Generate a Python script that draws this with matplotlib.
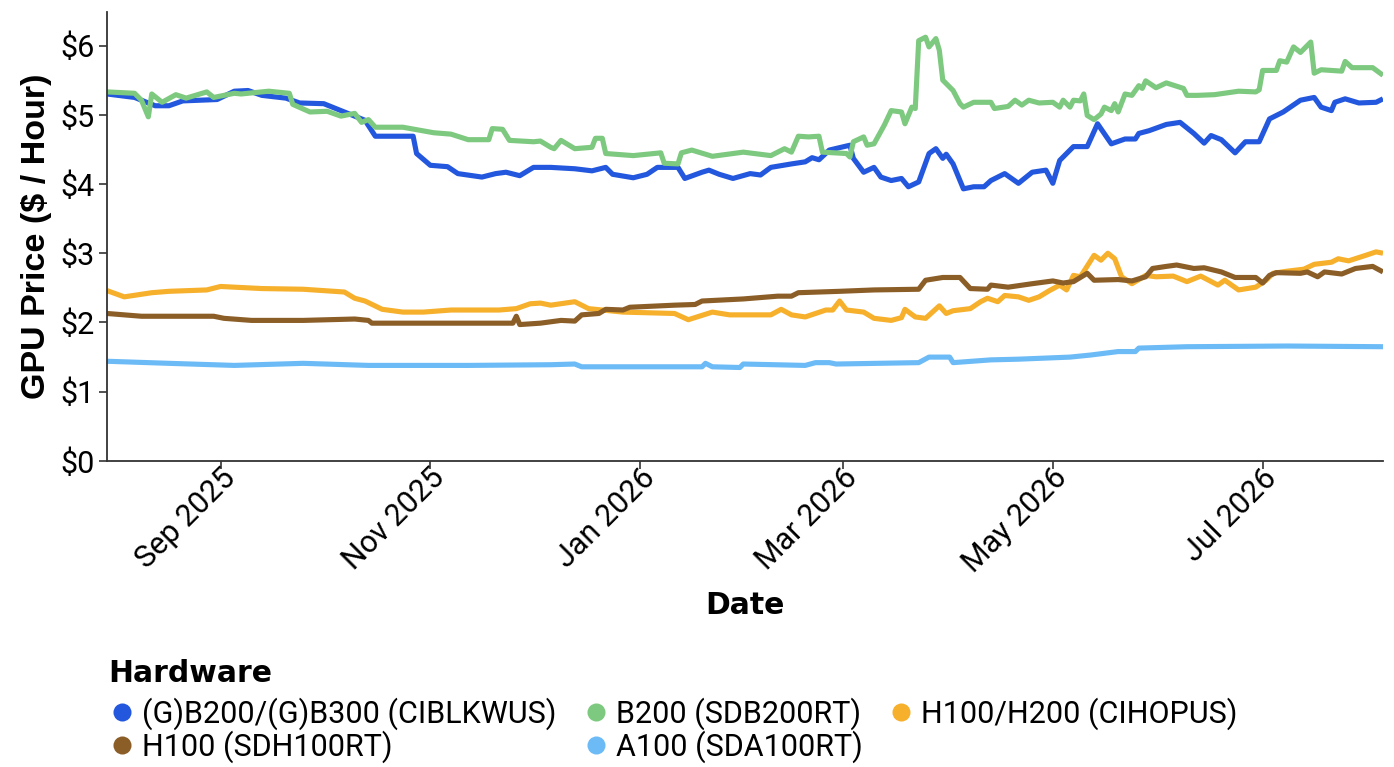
"""
plot.py
GPU rental price indices, Aug 2025 - Aug 2026.
"""

import numpy as np
import pandas as pd
import matplotlib
matplotlib.use("Agg")
import matplotlib.pyplot as plt
import matplotlib.dates as mdates
import matplotlib.transforms as mtransforms
from matplotlib.lines import Line2D
from matplotlib.ticker import FuncFormatter, MultipleLocator

# --- data (date, $/hour)
GB_DATES = ["2025-07-30", "2025-08-07", "2025-08-13", "2025-08-17", "2025-08-21", "2025-08-31",
            "2025-09-05", "2025-09-09", "2025-09-13", "2025-09-20", "2025-09-24", "2025-10-01",
            "2025-10-06", "2025-10-13", "2025-10-16", "2025-10-27", "2025-10-28", "2025-11-01",
            "2025-11-06", "2025-11-09", "2025-11-16", "2025-11-20", "2025-11-23", "2025-11-27",
            "2025-12-01", "2025-12-06", "2025-12-13", "2025-12-18", "2025-12-22", "2025-12-24",
            "2025-12-30", "2026-01-03", "2026-01-06", "2026-01-12", "2026-01-14", "2026-01-19",
            "2026-01-21", "2026-01-24", "2026-01-28", "2026-02-02", "2026-02-05", "2026-02-08",
            "2026-02-14", "2026-02-18", "2026-02-20", "2026-02-22", "2026-02-25", "2026-03-03",
            "2026-03-04", "2026-03-07", "2026-03-10", "2026-03-12", "2026-03-15", "2026-03-18",
            "2026-03-20", "2026-03-23", "2026-03-26", "2026-03-28", "2026-03-30", "2026-03-31",
            "2026-04-02", "2026-04-05", "2026-04-08", "2026-04-11", "2026-04-13", "2026-04-17",
            "2026-04-21", "2026-04-25", "2026-04-29", "2026-05-01", "2026-05-03", "2026-05-07",
            "2026-05-11", "2026-05-14", "2026-05-18", "2026-05-22", "2026-05-25", "2026-05-26",
            "2026-05-29", "2026-06-03", "2026-06-07", "2026-06-11", "2026-06-14", "2026-06-16",
            "2026-06-19", "2026-06-23", "2026-06-26", "2026-06-30", "2026-07-03", "2026-07-07",
            "2026-07-12", "2026-07-16", "2026-07-18", "2026-07-21", "2026-07-22", "2026-07-25",
            "2026-07-29", "2026-08-03", "2026-08-05"]
GB_PRICE = [5.30, 5.25, 5.13, 5.13, 5.20, 5.22,
            5.34, 5.35, 5.28, 5.24, 5.17, 5.16,
            5.06, 4.92, 4.69, 4.69, 4.44, 4.27,
            4.25, 4.15, 4.10, 4.15, 4.17, 4.12,
            4.24, 4.24, 4.22, 4.19, 4.24, 4.14,
            4.09, 4.14, 4.24, 4.24, 4.08, 4.17,
            4.20, 4.14, 4.08, 4.15, 4.13, 4.24,
            4.29, 4.32, 4.38, 4.35, 4.49, 4.56,
            4.37, 4.17, 4.24, 4.10, 4.05, 4.08,
            3.96, 4.03, 4.44, 4.51, 4.37, 4.43,
            4.29, 3.93, 3.96, 3.96, 4.05, 4.15,
            4.01, 4.17, 4.20, 4.01, 4.34, 4.54,
            4.54, 4.87, 4.58, 4.65, 4.65, 4.73,
            4.77, 4.86, 4.89, 4.73, 4.59, 4.70,
            4.64, 4.45, 4.61, 4.61, 4.94, 5.04,
            5.21, 5.25, 5.11, 5.06, 5.18, 5.23,
            5.17, 5.18, 5.23]

B200_DATES = ["2025-07-30", "2025-08-07", "2025-08-09", "2025-08-11", "2025-08-12", "2025-08-15",
              "2025-08-19", "2025-08-22", "2025-08-28", "2025-08-30", "2025-09-05", "2025-09-07",
              "2025-09-15", "2025-09-21", "2025-09-22", "2025-09-27", "2025-10-02", "2025-10-06",
              "2025-10-10", "2025-10-12", "2025-10-14", "2025-10-16", "2025-10-24", "2025-11-02",
              "2025-11-07", "2025-11-12", "2025-11-18", "2025-11-19", "2025-11-22", "2025-11-24",
              "2025-12-01", "2025-12-03", "2025-12-06", "2025-12-07", "2025-12-09", "2025-12-13",
              "2025-12-18", "2025-12-19", "2025-12-21", "2025-12-22", "2025-12-30", "2026-01-07",
              "2026-01-08", "2026-01-12", "2026-01-13", "2026-01-16", "2026-01-22", "2026-01-31",
              "2026-02-08", "2026-02-12", "2026-02-14", "2026-02-16", "2026-02-19", "2026-02-22",
              "2026-02-23", "2026-03-02", "2026-03-03", "2026-03-04", "2026-03-07", "2026-03-08",
              "2026-03-10", "2026-03-13", "2026-03-15", "2026-03-18", "2026-03-19", "2026-03-21",
              "2026-03-22", "2026-03-23", "2026-03-25", "2026-03-26", "2026-03-28", "2026-03-29",
              "2026-03-30", "2026-04-02", "2026-04-04", "2026-04-05", "2026-04-08", "2026-04-13",
              "2026-04-14", "2026-04-18", "2026-04-20", "2026-04-22", "2026-04-24", "2026-04-27",
              "2026-05-01", "2026-05-03", "2026-05-04", "2026-05-06", "2026-05-07", "2026-05-09",
              "2026-05-10", "2026-05-11", "2026-05-13", "2026-05-15", "2026-05-16", "2026-05-18",
              "2026-05-19", "2026-05-20", "2026-05-22", "2026-05-24", "2026-05-26", "2026-05-27",
              "2026-05-28", "2026-05-31", "2026-06-03", "2026-06-08", "2026-06-09", "2026-06-12",
              "2026-06-17", "2026-06-24", "2026-06-29", "2026-06-30", "2026-07-01", "2026-07-05",
              "2026-07-06", "2026-07-08", "2026-07-10", "2026-07-12", "2026-07-15", "2026-07-16",
              "2026-07-18", "2026-07-24", "2026-07-25", "2026-07-27", "2026-08-02", "2026-08-05"]
B200_PRICE = [5.33, 5.31, 5.21, 4.97, 5.30, 5.18,
              5.29, 5.24, 5.33, 5.25, 5.31, 5.30,
              5.34, 5.31, 5.15, 5.04, 5.05, 4.98,
              5.02, 4.89, 4.93, 4.82, 4.82, 4.74,
              4.72, 4.64, 4.64, 4.80, 4.79, 4.63,
              4.61, 4.62, 4.53, 4.51, 4.63, 4.51,
              4.53, 4.66, 4.66, 4.44, 4.41, 4.45,
              4.30, 4.29, 4.45, 4.49, 4.40, 4.46,
              4.41, 4.51, 4.46, 4.69, 4.68, 4.69,
              4.46, 4.44, 4.39, 4.61, 4.68, 4.56,
              4.58, 4.85, 5.06, 5.04, 4.87, 5.11,
              5.09, 6.07, 6.12, 5.98, 6.10, 5.93,
              5.50, 5.35, 5.16, 5.11, 5.18, 5.18,
              5.09, 5.12, 5.21, 5.14, 5.21, 5.17,
              5.18, 5.11, 5.21, 5.11, 5.21, 5.20,
              5.30, 4.99, 4.93, 5.01, 5.11, 5.06,
              5.16, 5.04, 5.30, 5.28, 5.42, 5.38,
              5.49, 5.39, 5.46, 5.38, 5.28, 5.28,
              5.29, 5.34, 5.33, 5.36, 5.64, 5.64,
              5.78, 5.76, 5.98, 5.90, 6.05, 5.60,
              5.65, 5.63, 5.77, 5.68, 5.68, 5.57]

H100H200_DATES = ["2025-07-30", "2025-08-04", "2025-08-12", "2025-08-17", "2025-08-28", "2025-09-01",
                  "2025-09-13", "2025-09-25", "2025-10-07", "2025-10-10", "2025-10-13", "2025-10-18",
                  "2025-10-24", "2025-10-30", "2025-11-07", "2025-11-21", "2025-11-26", "2025-11-30",
                  "2025-12-03", "2025-12-06", "2025-12-13", "2025-12-17", "2025-12-27", "2026-01-11",
                  "2026-01-15", "2026-01-22", "2026-01-27", "2026-02-08", "2026-02-11", "2026-02-14",
                  "2026-02-18", "2026-02-24", "2026-02-26", "2026-02-28", "2026-03-02", "2026-03-07",
                  "2026-03-10", "2026-03-15", "2026-03-18", "2026-03-19", "2026-03-22", "2026-03-25",
                  "2026-03-29", "2026-03-31", "2026-04-02", "2026-04-07", "2026-04-10", "2026-04-12",
                  "2026-04-15", "2026-04-17", "2026-04-21", "2026-04-24", "2026-04-27", "2026-04-30",
                  "2026-05-03", "2026-05-05", "2026-05-07", "2026-05-09", "2026-05-13", "2026-05-15",
                  "2026-05-17", "2026-05-19", "2026-05-21", "2026-05-24", "2026-05-28", "2026-05-31",
                  "2026-06-05", "2026-06-09", "2026-06-13", "2026-06-18", "2026-06-20", "2026-06-24",
                  "2026-06-29", "2026-07-02", "2026-07-04", "2026-07-08", "2026-07-13", "2026-07-16",
                  "2026-07-21", "2026-07-23", "2026-07-26", "2026-07-31", "2026-08-03", "2026-08-05"]
H100H200_PRICE = [2.46, 2.37, 2.43, 2.45, 2.47, 2.52,
                  2.49, 2.48, 2.44, 2.35, 2.31, 2.19,
                  2.15, 2.15, 2.18, 2.18, 2.20, 2.27,
                  2.28, 2.25, 2.30, 2.20, 2.15, 2.13,
                  2.04, 2.15, 2.11, 2.11, 2.19, 2.11,
                  2.08, 2.18, 2.18, 2.31, 2.18, 2.15,
                  2.06, 2.03, 2.07, 2.19, 2.08, 2.06,
                  2.24, 2.13, 2.17, 2.20, 2.30, 2.35,
                  2.30, 2.39, 2.37, 2.32, 2.37, 2.46,
                  2.54, 2.47, 2.68, 2.66, 2.97, 2.90,
                  3.00, 2.92, 2.66, 2.56, 2.68, 2.66,
                  2.67, 2.59, 2.67, 2.54, 2.61, 2.47,
                  2.51, 2.61, 2.71, 2.74, 2.77, 2.84,
                  2.87, 2.92, 2.89, 2.97, 3.02, 3.00]

H100_DATES = ["2025-07-30", "2025-08-09", "2025-08-30", "2025-09-02", "2025-09-10", "2025-09-25",
              "2025-10-10", "2025-10-14", "2025-10-15", "2025-11-02", "2025-11-25", "2025-11-26",
              "2025-11-27", "2025-12-03", "2025-12-09", "2025-12-13", "2025-12-15", "2025-12-20",
              "2025-12-22", "2025-12-27", "2025-12-29", "2026-01-11", "2026-01-17", "2026-01-19",
              "2026-01-31", "2026-02-10", "2026-02-14", "2026-02-16", "2026-02-28", "2026-03-10",
              "2026-03-23", "2026-03-25", "2026-03-30", "2026-04-04", "2026-04-07", "2026-04-12",
              "2026-04-13", "2026-04-18", "2026-04-25", "2026-05-01", "2026-05-04", "2026-05-07",
              "2026-05-11", "2026-05-13", "2026-05-20", "2026-05-24", "2026-05-28", "2026-05-30",
              "2026-06-03", "2026-06-06", "2026-06-11", "2026-06-14", "2026-06-19", "2026-06-23",
              "2026-06-29", "2026-07-01", "2026-07-03", "2026-07-05", "2026-07-12", "2026-07-14",
              "2026-07-17", "2026-07-19", "2026-07-24", "2026-07-28", "2026-08-02", "2026-08-05"]
H100_PRICE = [2.13, 2.09, 2.09, 2.06, 2.03, 2.03,
              2.05, 2.03, 1.99, 1.99, 1.99, 2.09,
              1.97, 1.99, 2.03, 2.02, 2.11, 2.13,
              2.19, 2.18, 2.22, 2.25, 2.26, 2.31,
              2.34, 2.38, 2.38, 2.43, 2.45, 2.47,
              2.48, 2.61, 2.65, 2.65, 2.49, 2.48,
              2.54, 2.51, 2.56, 2.60, 2.57, 2.59,
              2.71, 2.61, 2.62, 2.60, 2.66, 2.78,
              2.81, 2.83, 2.78, 2.79, 2.73, 2.65,
              2.65, 2.57, 2.68, 2.72, 2.71, 2.73,
              2.66, 2.73, 2.70, 2.78, 2.81, 2.73]

A100_DATES = ["2025-07-30", "2025-08-17", "2025-09-05", "2025-09-25", "2025-10-14", "2025-11-12",
              "2025-12-06", "2025-12-13", "2025-12-15", "2026-01-19", "2026-01-20", "2026-01-22",
              "2026-01-30", "2026-01-31", "2026-02-18", "2026-02-21", "2026-02-25", "2026-02-27",
              "2026-03-23", "2026-03-26", "2026-04-01", "2026-04-02", "2026-04-13", "2026-04-21",
              "2026-05-06", "2026-05-12", "2026-05-20", "2026-05-25", "2026-05-26", "2026-06-09",
              "2026-07-08", "2026-08-05"]
A100_PRICE = [1.44, 1.41, 1.38, 1.41, 1.38, 1.38,
              1.39, 1.40, 1.36, 1.36, 1.41, 1.36,
              1.35, 1.40, 1.38, 1.42, 1.42, 1.40,
              1.42, 1.50, 1.50, 1.42, 1.46, 1.47,
              1.50, 1.53, 1.58, 1.58, 1.63, 1.65,
              1.66, 1.65]

SERIES = [
    ("(G)B200/(G)B300 (CIBLKWUS)", GB_DATES, GB_PRICE, "#2357DD"),
    ("B200 (SDB200RT)", B200_DATES, B200_PRICE, "#7DC97F"),
    ("H100/H200 (CIHOPUS)", H100H200_DATES, H100H200_PRICE, "#F6B02C"),
    ("H100 (SDH100RT)", H100_DATES, H100_PRICE, "#8C5E27"),
    ("A100 (SDA100RT)", A100_DATES, A100_PRICE, "#6CBBF7"),
]

FONT = ["Roboto", "DejaVu Sans"]
BOLD = ["DejaVu Sans"]
plt.rcParams["font.family"] = FONT

fig = plt.figure(figsize=(13.94, 7.67), dpi=100)
ax = fig.add_axes([0.0768, 0.399, 0.9153, 0.585])

for label, dates, price, color in SERIES:
    ax.plot(pd.to_datetime(dates), price, color=color, lw=3.7,
            solid_joinstyle="round", solid_capstyle="butt", label=label)

all_dates = pd.to_datetime(sum([s[1] for s in SERIES], []))
ax.set_xlim(all_dates.min(), all_dates.max())
ax.set_ylim(0, 6.48)

ax.yaxis.set_major_locator(MultipleLocator(1))
ax.yaxis.set_major_formatter(FuncFormatter(lambda v, p: f"${v:.0f}"))
ax.xaxis.set_major_locator(mdates.MonthLocator(bymonth=[1, 3, 5, 7, 9, 11]))
ax.xaxis.set_major_formatter(mdates.DateFormatter("%b %Y"))

for side in ("top", "right"):
    ax.spines[side].set_visible(False)
for side in ("left", "bottom"):
    ax.spines[side].set_linewidth(1.3)
    ax.spines[side].set_color("#333333")

ax.tick_params(axis="both", labelsize=22, length=6, width=1.2, color="#333333")
ax.tick_params(axis="y", pad=3)
ax.tick_params(axis="x", pad=3)
shift = mtransforms.ScaledTranslation(0.10, 0, fig.dpi_scale_trans)
for lab in ax.get_xticklabels():
    lab.set_rotation(45)
    lab.set_ha("right")
    lab.set_va("center")
    lab.set_rotation_mode("anchor")
    lab.set_transform(lab.get_transform() + shift)

ax.set_ylabel("GPU Price ($ / Hour)", fontsize=24.5, fontweight="bold",
              family=["Liberation Sans", "DejaVu Sans"], labelpad=6)
ax.set_xlabel("Date", fontsize=21.5, fontweight="bold", family=BOLD, labelpad=9)

# legend title as plain text, entries row-major across three columns
fig.text(0.0775, 1 - 682 / 767, "Hardware", fontsize=21.5, fontweight="bold",
         family=BOLD, va="baseline", ha="left")
handles = {s[0]: Line2D([], [], ls="none", marker="o", markersize=13,
                        markerfacecolor=s[3], markeredgecolor="none") for s in SERIES}
order = ["(G)B200/(G)B300 (CIBLKWUS)", "H100 (SDH100RT)", "B200 (SDB200RT)",
         "A100 (SDA100RT)", "H100/H200 (CIHOPUS)"]
leg = fig.legend([handles[k] for k in order], order, ncol=3, loc="upper left",
                 bbox_to_anchor=(0.079, 0.0905), frameon=False, fontsize=22,
                 handlelength=0.8, handletextpad=0.25,
                 columnspacing=0.88, labelspacing=0.02, borderaxespad=0, borderpad=0)

fig.savefig("out.png", dpi=100, facecolor="white")
